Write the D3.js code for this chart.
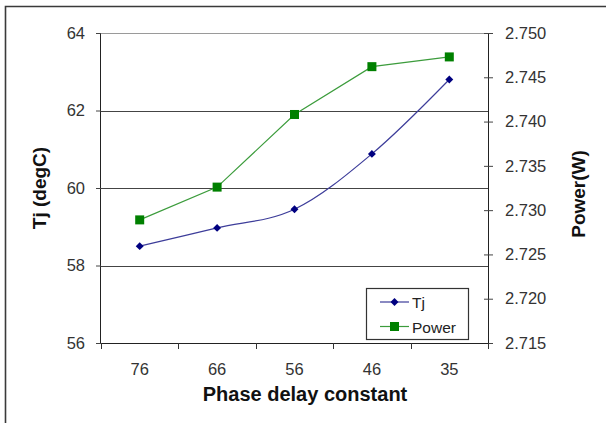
<!DOCTYPE html>
<html>
<head>
<meta charset="utf-8">
<script src="https://cdn.jsdelivr.net/npm/d3@7/dist/d3.min.js"></script>
<style>
  html, body { margin: 0; padding: 0; background: #fff; }
  svg { display: block; }
  text { font-family: "Liberation Sans", Arial, sans-serif; }
</style>
</head>
<body>
<svg id="chart" width="606" height="423"></svg>
<script>
const categories = ["76", "66", "56", "46", "35"];
const tjValues = [58.5, 58.97, 59.45, 60.88, 62.8];
const powerValues = [2.7289, 2.7326, 2.7408, 2.7462, 2.7473];
const leftTicks = [56, 58, 60, 62, 64];
const rightTicks = [2.715, 2.720, 2.725, 2.730, 2.735, 2.740, 2.745, 2.750];
const seriesNames = ["Tj", "Power"];

const svg = d3.select("#chart");
const W = 606, H = 423;
const plot = { left: 101, right: 488, top: 33, bottom: 343 };

svg.append("rect").attr("width", W).attr("height", H).attr("fill", "#fff");

// outer frame (left and top edges visible)
svg.append("path")
  .attr("d", `M5.5,${H} L5.5,6.5 L${W},6.5`)
  .attr("fill", "none").attr("stroke", "#3a3a3a").attr("stroke-width", 1.6);

const x = d3.scaleBand().domain(categories).range([plot.left, plot.right]);
const yL = d3.scaleLinear().domain([56, 64]).range([plot.bottom, plot.top]);
const yR = d3.scaleLinear().domain([2.715, 2.750]).range([plot.bottom, plot.top]);

// gridlines
svg.append("g").selectAll("line").data(leftTicks.filter(d => d > 56)).join("line")
  .attr("x1", plot.left).attr("x2", plot.right)
  .attr("y1", d => Math.round(yL(d)) + 0.5).attr("y2", d => Math.round(yL(d)) + 0.5)
  .attr("stroke", d => d === 64 ? "#9a9a9a" : "#444").attr("stroke-width", 1.2);

// left axis
const gL = svg.append("g").attr("transform", `translate(${plot.left},0)`)
  .call(d3.axisLeft(yL).tickValues(leftTicks).tickSize(5).tickPadding(11).tickFormat(d3.format("d")));
gL.select(".domain").attr("stroke", "#222").attr("d", `M-0.5,${plot.top}V${plot.bottom}`);
gL.selectAll(".tick line").attr("stroke", "#444");
gL.selectAll("text").attr("font-size", 16.5).attr("fill", "#333");

// right axis (crossing ticks)
const gR = svg.append("g").attr("transform", `translate(${plot.right},0)`)
  .call(d3.axisRight(yR).tickValues(rightTicks).tickSize(5).tickPadding(12).tickFormat(d3.format(".3f")));
gR.select(".domain").attr("stroke", "#222").attr("d", `M0.5,${plot.top}V${plot.bottom}`);
gR.selectAll(".tick line").attr("stroke", "#444");
gR.selectAll("text").attr("font-size", 16.5).attr("fill", "#333");
const gR2 = svg.append("g").attr("transform", `translate(${plot.right},0)`)
  .call(d3.axisLeft(yR).tickValues(rightTicks).tickSize(4).tickFormat(""));
gR2.select(".domain").remove();
gR2.selectAll(".tick line").attr("stroke", "#444");

// bottom axis: labels at band centers
const gB = svg.append("g").attr("transform", `translate(0,${plot.bottom})`)
  .call(d3.axisBottom(x).tickSize(0).tickPadding(20));
gB.select(".domain").attr("stroke", "#222").attr("d", `M${plot.left},0.5H${plot.right}`);
gB.selectAll("text").attr("font-size", 16.5).attr("fill", "#333");
// boundary ticks
const bounds = categories.map(c => x(c)).concat([x.range()[1]]);
svg.append("g").selectAll("line").data(bounds).join("line")
  .attr("x1", d => Math.round(d) + 0.5).attr("x2", d => Math.round(d) + 0.5)
  .attr("y1", plot.bottom).attr("y2", plot.bottom + 6)
  .attr("stroke", "#333");

const cx = c => x(c) + x.bandwidth() / 2;

// Power line (straight)
svg.append("path")
  .datum(powerValues)
  .attr("fill", "none").attr("stroke", "#3c9c3c").attr("stroke-width", 1.2)
  .attr("d", d3.line().x((d, i) => cx(categories[i])).y(d => yR(d)));

// Tj line (smoothed)
svg.append("path")
  .datum(tjValues)
  .attr("fill", "none").attr("stroke", "#3d3d9a").attr("stroke-width", 1.2)
  .attr("d", d3.line().curve(d3.curveCardinal).x((d, i) => cx(categories[i])).y(d => yL(d)));

// markers
svg.append("g").selectAll("rect").data(powerValues).join("rect")
  .attr("x", (d, i) => cx(categories[i]) - 4.5).attr("y", d => yR(d) - 4.5)
  .attr("width", 9).attr("height", 9).attr("fill", "#008000");

const diamond = d3.symbol().type(d3.symbolDiamond2).size(40);
svg.append("g").selectAll("path").data(tjValues).join("path")
  .attr("transform", (d, i) => `translate(${cx(categories[i])},${yL(d)})`)
  .attr("d", diamond).attr("fill", "#000080");

// legend
const lg = svg.append("g");
lg.append("rect").attr("x", 366.5).attr("y", 288.5).attr("width", 102).attr("height", 51)
  .attr("fill", "#fff").attr("stroke", "#333").attr("stroke-width", 1.2);
const legendItems = [
  { name: seriesNames[0], color: "#3d3d9a", mark: "#000080", y: 302, type: "diamond" },
  { name: seriesNames[1], color: "#3c9c3c", mark: "#008000", y: 326.5, type: "square" }
];
legendItems.forEach(it => {
  lg.append("line").attr("x1", 380).attr("x2", 409).attr("y1", it.y).attr("y2", it.y)
    .attr("stroke", it.color).attr("stroke-width", 1.2);
  if (it.type === "diamond") {
    lg.append("path").attr("transform", `translate(394.5,${it.y})`).attr("d", diamond).attr("fill", it.mark);
  } else {
    lg.append("rect").attr("x", 390).attr("y", it.y - 4.5).attr("width", 9).attr("height", 9).attr("fill", it.mark);
  }
  lg.append("text").attr("x", 412).attr("y", it.y + 6).attr("font-size", 15.5).attr("fill", "#222").text(it.name);
});

// axis titles
svg.append("text").attr("transform", "translate(46,188) rotate(-90)")
  .attr("text-anchor", "middle").attr("font-size", 19).attr("font-weight", "bold").attr("fill", "#111")
  .text("Tj (degC)");
svg.append("text").attr("transform", "translate(585,194) rotate(-90)")
  .attr("text-anchor", "middle").attr("font-size", 19).attr("font-weight", "bold").attr("fill", "#111")
  .text("Power(W)");
svg.append("text").attr("x", 305).attr("y", 401)
  .attr("text-anchor", "middle").attr("font-size", 20).attr("font-weight", "bold").attr("fill", "#111")
  .text("Phase delay constant");
</script>
</body>
</html>
